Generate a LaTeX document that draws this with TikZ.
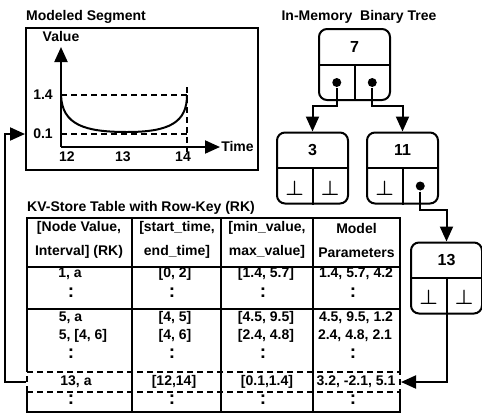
\documentclass[tikz,border=0pt]{standalone}
\usepackage{fontspec}
\setmainfont{Liberation Sans}
\usetikzlibrary{arrows.meta}

\begin{document}
\begin{tikzpicture}[x=1pt, y=-1pt, line width=2pt, >={Triangle[length=15pt,width=13pt]}]
        \tikzstyle{every node}=[font=\bfseries\fontsize{14}{16}\selectfont, inner sep=1pt]
        \tikzstyle{tnode}=[draw, rounded corners=8pt, minimum width=71pt, minimum height=71pt]
        \tikzstyle{tlabel}=[font=\bfseries\fontsize{16}{18}\selectfont]
        \tikzstyle{dot}=[circle, fill, inner sep=0pt, minimum size=9pt]
        \tikzstyle{nil}=[font=\bfseries\boldmath\fontsize{22}{22}\selectfont]
        \tikzstyle{vdots}=[font=\bfseries\fontsize{19}{19}\selectfont]
        \tikzstyle{head}=[align=center, font=\bfseries\fontsize{14}{24}\selectfont]
        \tikzstyle{dashline}=[dash pattern=on 6pt off 4pt]
        \useasboundingbox (0,0) rectangle (482,413);

        % modeled segment
        \node (segtitle) at (86,17) {Modeled Segment};
        \node [draw, minimum width=232pt, minimum height=142pt] (seg) at (142,99) {};
        \coordinate (o) at (61,147);
        \coordinate (ytop) at (61,47);
        \coordinate (xend) at (220,147);
        \coordinate (y01) at (61,134);
        \draw[->] (o) -- (ytop);
        \draw[->] (o) -- (xend);
        \node (vlab) at (61,36) {Value};
        \node (tlab) at (237.5,146) {Time};
        \draw[dashline] (61,95) -- (187,95) (y01) -- (187,134) (187,87) -- (187,152);
        \draw (61,95) .. controls (62,125) and (85,132) .. (127,132) .. controls (170,132) and (187,122) .. (187,95);
        \node (v14) at (43,95) {1.4};
        \node (v01) at (43,134) {0.1};
        \node (t12) at (67,157) {12};
        \node (t13) at (123,157) {13};
        \node (t14) at (183,157) {14};

        % in-memory tree
        \node (treetitle) at (359,17) {In-Memory~~Binary Tree};
        \node [tnode] (n7) at (354.5,64.5) {};
        \node [tnode] (n3) at (312.5,168) {};
        \node [tnode] (n11) at (402.5,168) {};
        \node [tnode] (n13) at (446.5,278) {};
        \draw (n7.west) -- (n7.east) (n7.center) -- (n7.south);
        \draw (n3.west) -- (n3.east) (n3.center) -- (n3.south);
        \draw (n11.west) -- (n11.east) (n11.center) -- (n11.south);
        \draw (n13.west) -- (n13.east) (n13.center) -- (n13.south);
        \node [tlabel] (l7) at (354.5,47) {7};
        \node [tlabel] (l3) at (312.5,150) {3};
        \node [tlabel] (l11) at (402.5,150) {11};
        \node [tlabel] (l13) at (446.5,260) {13};
        \node [dot] (d7l) at (336.75,82.5) {};
        \node [dot] (d7r) at (372.25,82.5) {};
        \node [dot] (d11) at (420.25,186) {};
        \node [nil] (b3l) at (294.75,188) {$\perp$};
        \node [nil] (b3r) at (330.25,188) {$\perp$};
        \node [nil] (b11) at (384.75,188) {$\perp$};
        \node [nil] (b13l) at (428.75,297) {$\perp$};
        \node [nil] (b13r) at (464.25,297) {$\perp$};
        \draw[->] (d7l) -- ++(0,23) -| (n3.north);
        \draw[->] (d7r) -- ++(0,23) -| (n11.north);
        \draw[->] (d11) -- ++(0,24) -| (n13.north);

        % kv-store table
        \node (kvtitle) at (141,208) {KV-Store Table with Row-Key (RK)};
        \draw (27,372) -- (27,218) -- (400,218) -- (400,372) (27,392) -- (27,412) -- (400,412) -- (400,392);
        \draw (27,267) -- (400,267) (27,309) -- (400,309);
        \draw (132,218) -- (132,412) (221,218) -- (221,412) (313,218) -- (313,412);
        \node [draw, dashline, minimum width=373pt, minimum height=20pt, inner sep=0pt] (row13) at (213.5,382) {};
        \node [head] (h1) at (79,240) {[Node Value,\\Interval] (RK)};
        \node [head] (h2) at (177,240) {[start\_time,\\end\_time]};
        \node [head] (h3) at (267,240) {[min\_value,\\max\_value]};
        \node [head] (h4) at (356.5,240) {Model\\Parameters};
        \node (a1) at (70,274) {1, a};
        \node (a2) at (175,274) {[0, 2]};
        \node (a3) at (266,274) {[1.4, 5.7]};
        \node (a4) at (356,274) {1.4, 5.7, 4.2};
        \node [vdots] (ad1) at (71,293) {:};
        \node [vdots] (ad2) at (172,293) {:};
        \node [vdots] (ad3) at (263,293) {:};
        \node [vdots] (ad4) at (353,293) {:};
        \node (b1) at (70.5,318) {5, a};
        \node (b2) at (175,318) {[4, 5]};
        \node (b3) at (266,318) {[4.5, 9.5]};
        \node (b4) at (356,318) {4.5, 9.5, 1.2};
        \node (c1) at (83,336) {5, [4, 6]};
        \node (c2) at (175,336) {[4, 6]};
        \node (c3) at (266,336) {[2.4, 4.8]};
        \node (c4) at (355,336) {2.4, 4.8, 2.1};
        \node [vdots] (cd1) at (71,354) {:};
        \node [vdots] (cd2) at (172,354) {:};
        \node [vdots] (cd3) at (263,354) {:};
        \node [vdots] (cd4) at (353,354) {:};
        \node (e1) at (76,382) {13, a};
        \node (e2) at (174,382) {[12,14]};
        \node (e3) at (267,382) {[0.1,1.4]};
        \node (e4) at (356,382) {3.2, -2.1, 5.1};
        \node [vdots] (ed1) at (71,400) {:};
        \node [vdots] (ed2) at (172,400) {:};
        \node [vdots] (ed3) at (263,400) {:};
        \node [vdots] (ed4) at (353,400) {:};

        % links
        \draw[->] (n13.south) |- (row13.east);
        \draw[->] (row13.west) -- ++(-21,0) |- (seg.west |- y01);
\end{tikzpicture}
\end{document}
